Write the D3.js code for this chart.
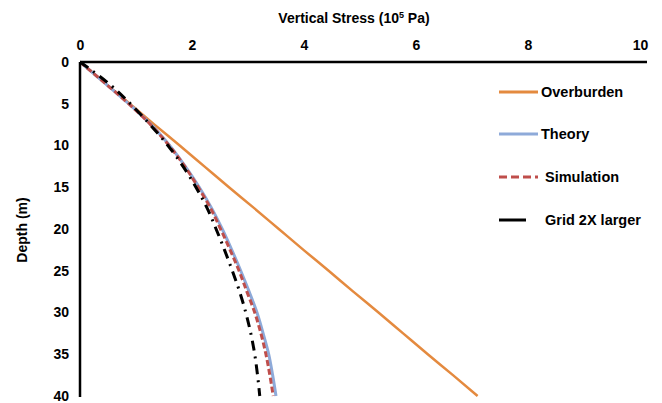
<!DOCTYPE html>
<html>
<head>
<meta charset="utf-8">
<script src="https://cdn.jsdelivr.net/npm/d3@7"></script>
<style>
  body { margin: 0; background: #fff; }
  svg { font-family: "Liberation Sans", Arial, sans-serif; font-weight: bold; }
</style>
</head>
<body>
<svg width="662" height="403"></svg>
<script>
// data (depth in m, stress in 1e5 Pa)
const depths = [0, 2.5, 5, 7.5, 10, 12.5, 15, 17.5, 20, 22.5, 25, 27.5, 30, 32.5, 35, 37.5, 40];
const overburden = [0, 0.44, 0.89, 1.33, 1.78, 2.22, 2.66, 3.11, 3.55, 3.99, 4.44, 4.88, 5.33, 5.77, 6.21, 6.66, 7.1];
const theory = [0, 0.44, 0.87, 1.27, 1.6, 1.88, 2.13, 2.35, 2.54, 2.71, 2.87, 3.02, 3.16, 3.27, 3.37, 3.44, 3.5];
const simulation = [0, 0.44, 0.87, 1.26, 1.59, 1.87, 2.11, 2.33, 2.51, 2.68, 2.84, 2.98, 3.12, 3.23, 3.32, 3.39, 3.45];
const grid2x = [0, 0.5, 0.9, 1.25, 1.57, 1.84, 2.07, 2.27, 2.43, 2.58, 2.72, 2.85, 2.96, 3.05, 3.12, 3.17, 3.21];
const xTicks = [0, 2, 4, 6, 8, 10];
const yTicks = [0, 5, 10, 15, 20, 25, 30, 35, 40];
const seriesNames = ["Overburden", "Theory", "Simulation", "Grid 2X larger"];

const svg = d3.select("svg");

const x = d3.scaleLinear().domain([0, 10]).range([80, 640]);
const y = d3.scaleLinear().domain([0, 40]).range([62, 396]);

// series style
const series = [
  { name: seriesNames[0], vals: overburden, color: "#e48a3f", width: 2.5, dash: null },
  { name: seriesNames[1], vals: theory, color: "#8eaad9", width: 3, dash: null },
  { name: seriesNames[2], vals: simulation, color: "#bf4e4b", width: 3, dash: "6,3" },
  { name: seriesNames[3], vals: grid2x, color: "#000", width: 3, dash: "10,6,2,6" }
];

const line = d3.line()
  .x(d => x(d[1]))
  .y(d => y(d[0]))
  .curve(d3.curveMonotoneY);

svg.selectAll("path.series")
  .data(series)
  .enter()
  .append("path")
  .attr("class", "series")
  .attr("d", s => line(depths.map((dp, i) => [dp, s.vals[i]])))
  .attr("fill", "none")
  .attr("stroke", s => s.color)
  .attr("stroke-width", s => s.width)
  .attr("stroke-dasharray", s => s.dash);

// axes
const xAxis = d3.axisTop(x).tickValues(xTicks).tickSize(0).tickPadding(12);
const gx = svg.append("g").attr("transform", "translate(0,62)").call(xAxis);
gx.select(".domain").attr("stroke", "#000").attr("stroke-width", 2.5).attr("d", "M80,0H647");
gx.selectAll("text").attr("font-size", 14).attr("font-weight", "bold").attr("font-family", "Liberation Sans, Arial");

const yAxis = d3.axisLeft(y).tickValues(yTicks).tickSize(0).tickPadding(11);
const gy = svg.append("g").attr("transform", "translate(80,0)").call(yAxis);
gy.select(".domain").attr("stroke", "#000").attr("stroke-width", 2.5).attr("d", "M0,62V397");
gy.selectAll("text").attr("font-size", 14).attr("font-weight", "bold").attr("font-family", "Liberation Sans, Arial");

// titles
const xt = svg.append("text")
  .attr("x", 354).attr("y", 23)
  .attr("text-anchor", "middle")
  .attr("font-size", 14);
xt.append("tspan").text("Vertical Stress (10");
xt.append("tspan").attr("font-size", 9).attr("dy", -5).text("5");
xt.append("tspan").attr("dy", 5).text(" Pa)");

svg.append("text")
  .attr("transform", "translate(27,230) rotate(-90)")
  .attr("text-anchor", "middle")
  .attr("font-size", 14)
  .text("Depth (m)");

// legend
const legY = [92, 134, 177, 220];
const leg = svg.selectAll("g.leg")
  .data(series)
  .enter()
  .append("g")
  .attr("class", "leg")
  .attr("transform", (d, i) => `translate(499,${legY[i]})`);

leg.append("line")
  .attr("x1", 0).attr("x2", (d, i) => i === 3 ? 27 : 39)
  .attr("stroke", d => d.color)
  .attr("stroke-width", 3)
  .attr("stroke-dasharray", (d, i) => i === 2 ? "8,4" : null);

leg.append("text")
  .attr("x", (d, i) => i < 2 ? 42 : 46)
  .attr("y", 5)
  .attr("font-size", 14.5)
  .text(d => d.name);
</script>
</body>
</html>
